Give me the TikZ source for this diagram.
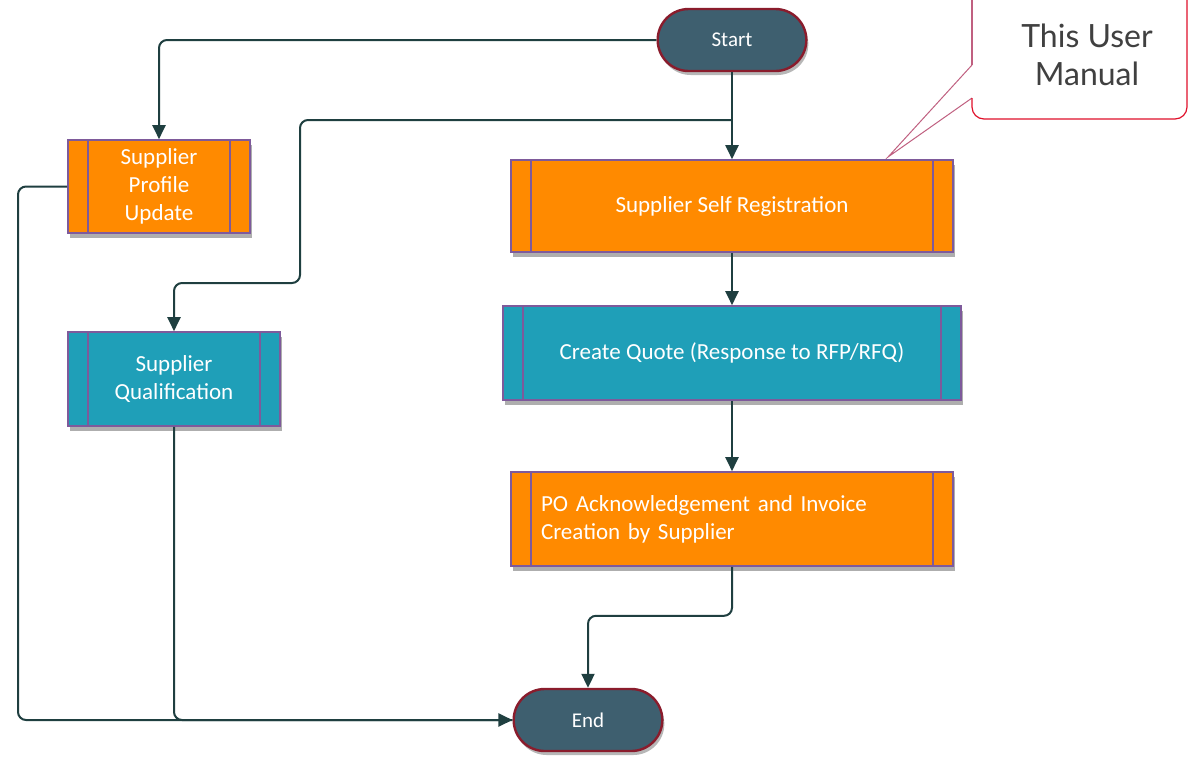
\documentclass[tikz,border=0pt]{standalone}
\usepackage{fontspec}
\setmainfont{Carlito}
\newfontfamily\lato{Lato}
\usetikzlibrary{arrows.meta,shapes.misc,shadows}

\definecolor{orng}{HTML}{FF8A00}
\definecolor{teal}{HTML}{1F9FB8}
\definecolor{slate}{HTML}{3E5F6F}
\definecolor{pillred}{HTML}{8A1C2C}
\definecolor{boxline}{HTML}{7E5A9B}
\definecolor{linecol}{HTML}{1F3F40}
\definecolor{callred}{HTML}{E0102A}
\definecolor{ptrcol}{HTML}{C06080}

\tikzset{
  box/.style={rectangle, draw=boxline, line width=0.8pt, text=white,
    font=\fontsize{11.5}{14}\selectfont, align=center, inner xsep=10pt,
    drop shadow={shadow xshift=1pt, shadow yshift=-2.5pt, opacity=0.45, fill=black!70},
    path picture={
      \draw[boxline, line width=0.8pt]
        ([xshift=10pt]path picture bounding box.north west) -- ([xshift=10pt]path picture bounding box.south west)
        ([xshift=-10pt]path picture bounding box.north east) -- ([xshift=-10pt]path picture bounding box.south east);
    }},
  pill/.style={rounded rectangle, fill=slate, draw=pillred, line width=1.2pt, text=white,
    font=\fontsize{10.5}{12}\selectfont, minimum width=81pt, minimum height=31pt,
    drop shadow={shadow xshift=1pt, shadow yshift=-2pt, opacity=0.4, fill=black!70}},
  conn/.style={draw=linecol, line width=1pt, rounded corners=4pt,
    -{Triangle[length=7pt,width=6.5pt]}},
}

\begin{document}
\begin{tikzpicture}[x=0.5pt,y=-0.5pt]
\useasboundingbox (0,0) rectangle (1189,756);

\fill[white] (972,-10) -- (972,65) -- (888,157) -- (972,98) -- (972,119) -- (1187,119) -- (1187,-10) -- cycle;
\draw[ptrcol, line width=0.6pt] (972,-10) -- (972,65);
\draw[ptrcol, line width=0.5pt] (972,65) -- (888,157) -- (972,98);
\draw[callred, line width=0.6pt, rounded corners=6pt] (972,98) -- (972,119) -- (1187,119) -- (1187,-10);
\draw (1087,55) node (note) [font=\lato\fontsize{16}{19}\selectfont, text=black!75, align=center] {This User\\Manual};

\draw (732,40)    node (start) [pill] {Start};
\draw (732,206)   node (reg)   [box, fill=orng, minimum width=221pt, minimum height=46pt] {Supplier Self Registration};
\draw (732,353)   node (quote) [box, fill=teal, minimum width=229pt, minimum height=47pt] {Create Quote (Response to RFP/RFQ)};
\draw (732,519)   node (po)    [box, fill=orng, align=left, inner xsep=15pt, text width=191pt, minimum height=47pt] {PO Acknowledgement and Invoice\\Creation by Supplier};
\draw (159,186.5) node (prof)  [box, fill=orng, minimum width=91pt, minimum height=46.5pt] {Supplier\\Profile\\Update};
\draw (174,379)   node (qual)  [box, fill=teal, minimum width=106pt, minimum height=47pt] {Supplier\\Qualification};
\draw (588,720)   node (end)   [pill] {End};

\coordinate (split) at (732,120);

\draw[conn] (start.west) -| (prof.north);
\draw[conn] (start.south) -- (reg.north);
\draw[conn] (split) -| (300,283) -| (qual.north);
\draw[conn] (reg.south) -- (quote.north);
\draw[conn] (quote.south) -- (po.north);
\draw[conn] (po.south) -- ++(0,49) -| (end.north);
\draw[conn] (prof.west) -| (18,720) -- (end.west);
\draw[conn, -] (qual.south) |- (end.west);

\end{tikzpicture}
\end{document}
